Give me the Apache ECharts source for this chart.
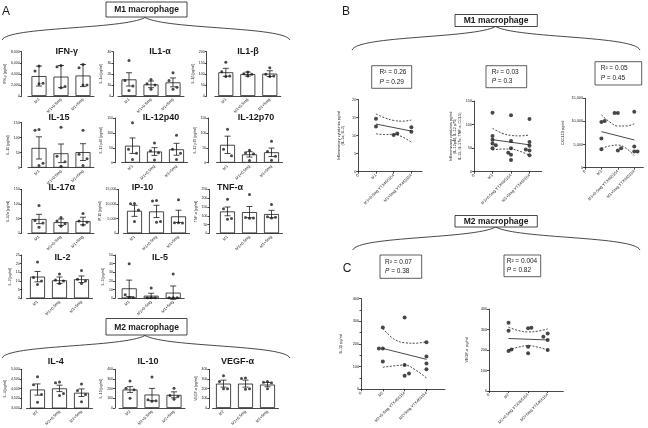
<!DOCTYPE html>
<html>
<head>
<meta charset="utf-8">
<script src="https://cdn.jsdelivr.net/npm/echarts@6/dist/echarts.min.js"></script>
<style>
  html, body { margin: 0; padding: 0; background: #fff; }
  #chart { width: 648px; height: 428px; }
</style>
</head>
<body>
<div id="chart"></div>
<script>
// ---- data ----
const m1Groups = ['M1', 'M1+0.5mg', 'M1+5mg'];
const m2Groups = ['M2', 'M2+0.5mg', 'M2+5mg'];
const bTicks = ['0', 'M1', 'M1+0.5mg YTX465154', 'M1+5mg YTX465154'];
const cTicks = ['0', 'M2', 'M2+0.5mg YTX465154', 'M2+5mg YTX465154'];

// panel A, M1 cytokines (mean, error, single wells)
const ifngMean = [3600, 3500, 3700];
const ifngErr = [1800, 2000, 2000];
const ifngPts = [[5400, 4500, 2300, 2200], [5500, 5300, 1700, 1500], [5700, 5100, 2000, 2000]];
const il1aMean = [15, 10.5, 12.3];
const il1aErr = [6, 3, 4];
const il1aPts = [[32, 14, 9, 5], [15, 11, 10, 6], [21, 14, 8, 6]];
const il1bMean = [107, 99, 101];
const il1bErr = [18, 9, 13];
const il1bPts = [[152, 110, 90, 88], [108, 100, 98, 90], [128, 98, 90, 88]];
const il15Mean = [66, 48, 52];
const il15Err = [37, 31, 28];
const il15Pts = [[127, 125, 15, 7], [135, 38, 20, 5], [125, 45, 30, 7]];
const il12p40Mean = [57, 37.5, 45];
const il12p40Err = [26, 13, 20];
const il12p40Pts = [[134, 45, 32, 11], [66, 40, 33, 9], [92, 45, 32, 11]];
const il12p70Mean = [60, 28, 35];
const il12p70Err = [29, 9, 14];
const il12p70Pts = [[112, 45, 23], [42, 33, 30, 7], [72, 38, 22, 8]];
const il17aMean = [49, 38, 42];
const il17aErr = [16, 11, 13];
const il17aPts = [[95, 44, 35, 21], [54, 42, 33, 24], [68, 42, 38, 28]];
const ip10Mean = [7700, 7500, 5800];
const ip10Err = [1900, 2100, 2100];
const ip10Pts = [[10200, 10100, 8000, 4000], [11200, 11100, 4000, 3800], [11500, 3600, 3500, 3600]];
const tnfaMean = [125, 121, 110];
const tnfaErr = [25, 32, 21];
const tnfaPts = [[195, 140, 85, 80], [222, 90, 88, 86], [165, 95, 92, 88]];
const il2Mean = [12.5, 10.4, 11];
const il2Err = [3, 1.9, 1.9];
const il2Pts = [[21, 12, 10, 8], [14, 10.5, 10, 8.5], [16, 11, 10, 8.5]];
const il5Mean = [11.5, 3, 6.5];
const il5Err = [9.5, 2.8, 7.7];
const il5Pts = [[40, 4, 1, 1], [12, 0.5, 0.5, 0.5], [28, 0.5, 0.5, 0.5]];
// panel A, M2 cytokines
const il4Mean = [3955, 4015, 3790];
const il4Err = [290, 165, 195];
const il4Pts = [[4620, 4200, 3700, 3300], [4350, 4300, 3750, 3650], [4240, 3900, 3700, 3330]];
const il10Mean = [191, 139, 136];
const il10Err = [30, 64, 31];
const il10Pts = [[280, 205, 190, 100], [320, 85, 75, 70], [203, 130, 120, 90]];
const vegfMean = [252, 252, 242];
const vegfErr = [36, 36, 22];
const vegfPts = [[333, 275, 200, 200], [310, 305, 200, 195], [275, 265, 260, 200]];

// panel B / C correlations: points, fitted line and 95% band
const b1Pts = [[1, 14.7], [1, 12.5], [2, 10.2], [2.2, 10.6], [3, 12.3], [3, 11.1]];
const b1Fit = [[1, 13.2], [3, 11.25]];
const b1Upper = [[1, 16.0], [1.5, 14.9], [2, 14.2], [2.5, 14.0], [3, 14.3]];
const b1Lower = [[1, 10.5], [1.5, 10.3], [2, 10.4], [2.5, 9.6], [3, 8.2]];
const b2Pts = [[1, 125], [1, 76], [1, 68], [1, 60], [1, 50], [1.18, 56],
  [2, 120], [2, 65], [2, 50], [1.85, 40], [2, 36], [2, 25],
  [3, 112], [3, 63], [3, 55], [2.8, 47], [3, 45], [3, 35]];
const b2Fit = [[1, 68], [3, 57]];
const b2Upper = [[1, 92], [1.5, 82], [2, 77], [2.5, 76], [3, 78]];
const b2Lower = [[1, 46], [1.5, 48], [2, 48], [2.5, 43], [3, 35]];
const b3Pts = [[1, 9900], [1.2, 10100], [1, 6300], [1, 4000],
  [1.8, 11800], [2, 11800], [2, 3700], [2.2, 4200],
  [3, 12100], [3, 4600], [3, 3500], [3.2, 3500]];
const b3Fit = [[1, 7800], [3, 6000]];
const b3Upper = [[1, 11400], [1.5, 9900], [2, 9000], [2.5, 9000], [3, 9500]];
const b3Lower = [[1, 4200], [1.5, 4700], [2, 4900], [2.5, 4200], [3, 2600]];
const c1Pts = [[1, 272], [1, 180], [0.82, 180], [1, 122],
  [2, 316], [2, 107], [2, 60], [2.2, 70],
  [3, 207], [3, 144], [3, 114], [3, 88]];
const c1Fit = [[1, 180], [3, 132]];
const c1Upper = [[1, 268], [1.5, 222], [2, 205], [2.5, 203], [3, 210]];
const c1Lower = [[1, 97], [1.5, 103], [2, 107], [2.5, 85], [3, 50]];
const c2Pts = [[1, 333], [1, 294], [1, 195], [1.15, 203],
  [2, 306], [2.17, 309], [2, 216], [2, 184],
  [2.78, 265], [3, 281], [3, 249], [3, 200]];
const c2Fit = [[1, 256], [3, 249]];
const c2Upper = [[1, 311], [1.5, 295], [2, 288], [2.5, 292], [3, 303]];
const c2Lower = [[1, 200], [1.5, 214], [2, 221], [2.5, 214], [3, 200]];

// ---- styling ----
const FONT = '"Liberation Sans", Arial, sans-serif';
const INK = '#1a1a1a';
const JITTER = [0, -4, 4, 0]; // px, spreads dots of one group
const BAND = 22; // category width of bar panels

// bar panels: data + where they sit
const barPanels = [
  { title: 'IFN-γ', yName: 'IFN-γ [pg/ml]', mean: ifngMean, err: ifngErr, pts: ifngPts, cats: m1Groups, min: 0, max: 8000, step: 2000, axisX: 21.7, c0: 39, top: 51.7, bottom: 96, tx: 66.7, ty: 52 },
  { title: 'IL1-α', yName: 'IL-1α [pg/ml]', mean: il1aMean, err: il1aErr, pts: il1aPts, cats: m1Groups, min: 0, max: 40, step: 10, axisX: 113.3, c0: 129, top: 51.7, bottom: 96, tx: 160, ty: 52 },
  { title: 'IL1-β', yName: 'IL-1β [pg/ml]', mean: il1bMean, err: il1bErr, pts: il1bPts, cats: m1Groups, min: 0, max: 200, step: 50, axisX: 206.7, c0: 225.8, top: 51.7, bottom: 96, tx: 248, ty: 52 },
  { title: 'IL-15', yName: 'IL-15 [pg/ml]', mean: il15Mean, err: il15Err, pts: il15Pts, cats: m1Groups, min: 0, max: 150, step: 50, axisX: 21.7, c0: 39, top: 122.7, bottom: 167.7, tx: 59, ty: 118 },
  { title: 'IL-12p40', yName: 'IL-12 p40 [pg/ml]', mean: il12p40Mean, err: il12p40Err, pts: il12p40Pts, cats: m1Groups, min: 0, max: 150, step: 50, axisX: 115, c0: 132.5, top: 118, bottom: 162.7, tx: 161, ty: 118 },
  { title: 'IL-12p70', yName: 'IL-12 p70 [pg/ml]', mean: il12p70Mean, err: il12p70Err, pts: il12p70Pts, cats: m1Groups, min: 0, max: 150, step: 50, axisX: 208.3, c0: 227.5, top: 118, bottom: 162.7, tx: 256, ty: 118 },
  { title: 'IL-17α', yName: 'IL-17α [pg/ml]', mean: il17aMean, err: il17aErr, pts: il17aPts, cats: m1Groups, min: 0, max: 150, step: 50, axisX: 21.7, c0: 39, top: 189.5, bottom: 233.3, tx: 61.7, ty: 188 },
  { title: 'IP-10', yName: 'IP-10 [pg/ml]', mean: ip10Mean, err: ip10Err, pts: ip10Pts, cats: m1Groups, min: 0, max: 15000, step: 5000, axisX: 118.3, c0: 134.5, top: 189.5, bottom: 233.3, tx: 142.5, ty: 188 },
  { title: 'TNF-α', yName: 'TNF-α [pg/ml]', mean: tnfaMean, err: tnfaErr, pts: tnfaPts, cats: m1Groups, min: 0, max: 250, step: 50, axisX: 209.3, c0: 227.5, top: 189.5, bottom: 233.3, tx: 230, ty: 188 },
  { title: 'IL-2', yName: 'IL-2 [pg/ml]', mean: il2Mean, err: il2Err, pts: il2Pts, cats: m1Groups, min: 0, max: 25, step: 5, axisX: 21.7, c0: 37.5, top: 255, bottom: 298.3, tx: 62.5, ty: 258 },
  { title: 'IL-5', yName: 'IL-5 [pg/ml]', mean: il5Mean, err: il5Err, pts: il5Pts, cats: m1Groups, min: 0, max: 50, step: 10, axisX: 115, c0: 129.2, top: 255, bottom: 298.3, tx: 160, ty: 258 },
  { title: 'IL-4', yName: 'IL-4 [pg/ml]', mean: il4Mean, err: il4Err, pts: il4Pts, cats: m2Groups, min: 3000, max: 5000, step: 500, axisX: 21.7, c0: 37.5, top: 369.3, bottom: 413.3, tx: 55.8, ty: 362 },
  { title: 'IL-10', yName: 'IL-10 [pg/ml]', mean: il10Mean, err: il10Err, pts: il10Pts, cats: m2Groups, min: 0, max: 400, step: 100, axisX: 115, c0: 130, top: 369.3, bottom: 413.3, tx: 148, ty: 362 },
  { title: 'VEGF-α', yName: 'VEGF-α [pg/ml]', mean: vegfMean, err: vegfErr, pts: vegfPts, cats: m2Groups, min: 0, max: 400, step: 100, axisX: 209.3, c0: 223.5, top: 369.3, bottom: 413.3, tx: 237.5, ty: 362 }
];

const scatterPanels = [
  { pts: b1Pts, fit: b1Fit, up: b1Upper, lo: b1Lower, ticks: bTicks, max: 20, step: 5, xMax: 3.6, left: 358.3, top: 99.5, width: 63.7, height: 72.2, nameGap: 13,
    yName: 'Inflammatory cytokines pg/ml\n(IL-1α, IL-2)' },
  { pts: b2Pts, fit: b2Fit, up: b2Upper, lo: b2Lower, ticks: bTicks, max: 150, step: 50, xMax: 3.66, left: 474, top: 101, width: 67.7, height: 70.7, nameGap: 12,
    yName: 'Inflammatory cytokines pg/ml\n(IL-12p40, IL-12 p70,\nIL-15, IL-17α, TNF-α, CCL5)' },
  { pts: b3Pts, fit: b3Fit, up: b3Upper, lo: b3Lower, ticks: bTicks, max: 15000, step: 5000, xMax: 3.55, left: 585, top: 98.3, width: 58.3, height: 69.4, nameGap: 20,
    yName: 'CXCL10 pg/ml' },
  { pts: c1Pts, fit: c1Fit, up: c1Upper, lo: c1Lower, ticks: cTicks, max: 400, step: 100, xMax: 3.85, left: 361, top: 298.5, width: 84, height: 90.8, nameGap: 18, minor: true,
    yName: 'IL-1β pg/ml' },
  { pts: c2Pts, fit: c2Fit, up: c2Upper, lo: c2Lower, ticks: cTicks, max: 400, step: 100, xMax: 3.8, left: 489, top: 309, width: 74.3, height: 82, nameGap: 20,
    yName: 'VEGF-α  pg/ml' }
];

const lineThin = { color: INK, width: 0.8 };

function errorBars(params, api) {
  const x = api.value(0), m = api.value(1), e = api.value(2);
  const hi = api.coord([x, m + e]);
  const lo = api.coord([x, m - e]);
  const st = { stroke: INK, lineWidth: 0.8 };
  return {
    type: 'group',
    children: [
      { type: 'line', shape: { x1: hi[0], y1: hi[1], x2: lo[0], y2: lo[1] }, style: st },
      { type: 'line', shape: { x1: hi[0] - 3, y1: hi[1], x2: hi[0] + 3, y2: hi[1] }, style: st },
      { type: 'line', shape: { x1: lo[0] - 3, y1: lo[1], x2: lo[0] + 3, y2: lo[1] }, style: st }
    ]
  };
}

const grid = [], xAxis = [], yAxis = [], series = [];

barPanels.forEach((p) => {
  const i = grid.length;
  const left = p.c0 - BAND / 2;
  grid.push({ left: left, top: p.top, width: BAND * 3, height: p.bottom - p.top });
  xAxis.push({
    type: 'category', gridIndex: i, data: p.cats,
    axisLine: { lineStyle: lineThin },
    axisTick: { length: 2, lineStyle: lineThin },
    axisLabel: { rotate: 45, fontSize: 4, margin: 3, color: INK, interval: 0, fontFamily: FONT }
  });
  yAxis.push({
    type: 'value', gridIndex: i, min: p.min, max: p.max, interval: p.step,
    offset: left - p.axisX,
    name: p.yName, nameLocation: 'middle', nameGap: 10,
    nameTextStyle: { fontSize: 3.5, color: INK, fontFamily: FONT },
    splitLine: { show: false },
    axisLine: { show: true, lineStyle: lineThin },
    axisTick: { show: true, length: 2, lineStyle: lineThin },
    axisLabel: { fontSize: 3.5, margin: 2, color: INK, fontFamily: FONT }
  });
  series.push({
    type: 'bar', xAxisIndex: i, yAxisIndex: i, data: p.mean, barWidth: 15,
    itemStyle: { color: '#fff', borderColor: INK, borderWidth: 0.8 }, z: 2
  });
  series.push({
    type: 'custom', xAxisIndex: i, yAxisIndex: i, renderItem: errorBars, z: 3,
    data: p.mean.map((m, k) => [k, m, p.err[k]])
  });
  const dots = [];
  p.pts.forEach((g, k) => g.forEach((v, j) => dots.push({ value: [k, v], symbolOffset: [JITTER[j % 4], 0] })));
  series.push({
    type: 'scatter', xAxisIndex: i, yAxisIndex: i, data: dots, symbolSize: 3,
    itemStyle: { color: INK }, z: 4
  });
});

scatterPanels.forEach((p) => {
  const i = grid.length;
  grid.push({ left: p.left, top: p.top, width: p.width, height: p.height });
  xAxis.push({
    type: 'value', gridIndex: i, min: 0, max: p.xMax, interval: 1,
    splitLine: { show: false },
    axisLine: { lineStyle: lineThin },
    axisTick: { length: 2, lineStyle: lineThin },
    axisLabel: {
      rotate: 45, fontSize: 4, margin: 3, color: INK, fontFamily: FONT,
      showMaxLabel: false,
      formatter: (v) => (Number.isInteger(v) && p.ticks[v] !== undefined ? p.ticks[v] : '')
    }
  });
  yAxis.push({
    type: 'value', gridIndex: i, min: 0, max: p.max, interval: p.step,
    name: p.yName, nameLocation: 'middle', nameGap: p.nameGap,
    nameTextStyle: { fontSize: 3.8, lineHeight: 4.5, color: INK, fontFamily: FONT },
    splitLine: { show: false },
    axisLine: { show: true, lineStyle: lineThin },
    axisTick: { show: true, length: 2, lineStyle: lineThin },
    minorTick: { show: !!p.minor, splitNumber: 2, length: 1.5, lineStyle: lineThin },
    axisLabel: { fontSize: 3.8, margin: 2, color: INK, fontFamily: FONT }
  });
  series.push({
    type: 'scatter', xAxisIndex: i, yAxisIndex: i, data: p.pts, symbolSize: 4,
    itemStyle: { color: INK }, z: 4
  });
  series.push({
    type: 'line', xAxisIndex: i, yAxisIndex: i, data: p.fit, symbol: 'none',
    lineStyle: { color: INK, width: 0.8 }, z: 3
  });
  [p.up, p.lo].forEach((band) => series.push({
    type: 'line', xAxisIndex: i, yAxisIndex: i, data: band, symbol: 'none', smooth: 0.4,
    lineStyle: { color: INK, width: 0.8, type: [2, 1.5] }, z: 3
  }));
});

// ---- decorations: titles, boxes, braces, letters ----
const graphic = [];
function txt(x, y, text, size, opts) {
  graphic.push({
    type: 'text', x: x, y: y, silent: true,
    style: Object.assign({
      text: text, fontSize: size, fontFamily: FONT, fill: INK,
      align: 'center', verticalAlign: 'middle', textAlign: 'center', textVerticalAlign: 'middle'
    }, opts || {})
  });
}
function box(x, y, w, h, label) {
  graphic.push({ type: 'rect', silent: true, shape: { x: x, y: y, width: w, height: h }, style: { fill: '#fff', stroke: INK, lineWidth: 0.8 } });
  txt(x + w / 2, y + h / 2 + 0.5, label, 8.5, { fontWeight: 'bold' });
}
function brace(x1, yEnd, xm, yPeak, x2) {
  const st = { stroke: INK, fill: null, lineWidth: 0.8 };
  graphic.push({ type: 'bezierCurve', silent: true, style: st,
    shape: { x1: x1, y1: yEnd, cpx1: x1 + 6, cpy1: yPeak + 9, cpx2: xm - 22, cpy2: yPeak + 12, x2: xm, y2: yPeak } });
  graphic.push({ type: 'bezierCurve', silent: true, style: st,
    shape: { x1: xm, y1: yPeak, cpx1: xm + 22, cpy1: yPeak + 12, cpx2: x2 - 6, cpy2: yPeak + 9, x2: x2, y2: yEnd } });
}
function stats(x, y, w, h, tx, r2, pv) {
  graphic.push({ type: 'rect', silent: true, shape: { x: x, y: y, width: w, height: h }, style: { fill: '#fff', stroke: INK, lineWidth: 0.7 } });
  graphic.push({
    type: 'text', x: tx, y: y + h / 2, silent: true,
    style: {
      text: 'R² = ' + r2 + '\n{i|P} = ' + pv, fontSize: 6.5, lineHeight: 9.5, fontFamily: FONT, fill: INK,
      align: 'left', verticalAlign: 'middle', textAlign: 'left', textVerticalAlign: 'middle',
      rich: { i: { fontStyle: 'italic', fontSize: 6.5, fontFamily: FONT, fill: INK } }
    }
  });
}

barPanels.forEach((p) => txt(p.tx, p.ty, p.title, 9, { fontWeight: 'bold' }));

txt(6, 12, 'A', 12);
txt(346, 12, 'B', 12);
txt(347, 269, 'C', 12);

brace(2, 40, 145, 17.5, 290);
box(106, 2, 81, 15, 'M1 macrophage');
brace(2, 358, 145, 335.5, 290);
box(106, 318.5, 81, 16.5, 'M2 macrophage');

brace(352, 50, 495.7, 26.5, 640);
box(455, 14.5, 82.3, 12, 'M1 macrophage');
brace(352.7, 250, 495.7, 227, 640);
box(455, 215.5, 82.3, 11.5, 'M2 macrophage');

stats(371.7, 65.7, 40, 22.6, 379.5, '0.26', '0.29');
stats(486, 65.7, 40.7, 22, 491.7, '0.03', '0.3');
stats(595, 61.7, 46.7, 23.3, 600.7, '0.05', '0.45');
stats(380, 255, 41.7, 23.3, 385, '0.07', '0.38');
stats(504, 255, 36.7, 21.7, 506.7, '0.004', '0.82');

const chart = echarts.init(document.getElementById('chart'), null, { renderer: 'canvas' });
chart.setOption({
  animation: false,
  backgroundColor: '#fff',
  textStyle: { fontFamily: FONT },
  grid: grid,
  xAxis: xAxis,
  yAxis: yAxis,
  series: series,
  graphic: graphic
});
</script>
</body>
</html>
